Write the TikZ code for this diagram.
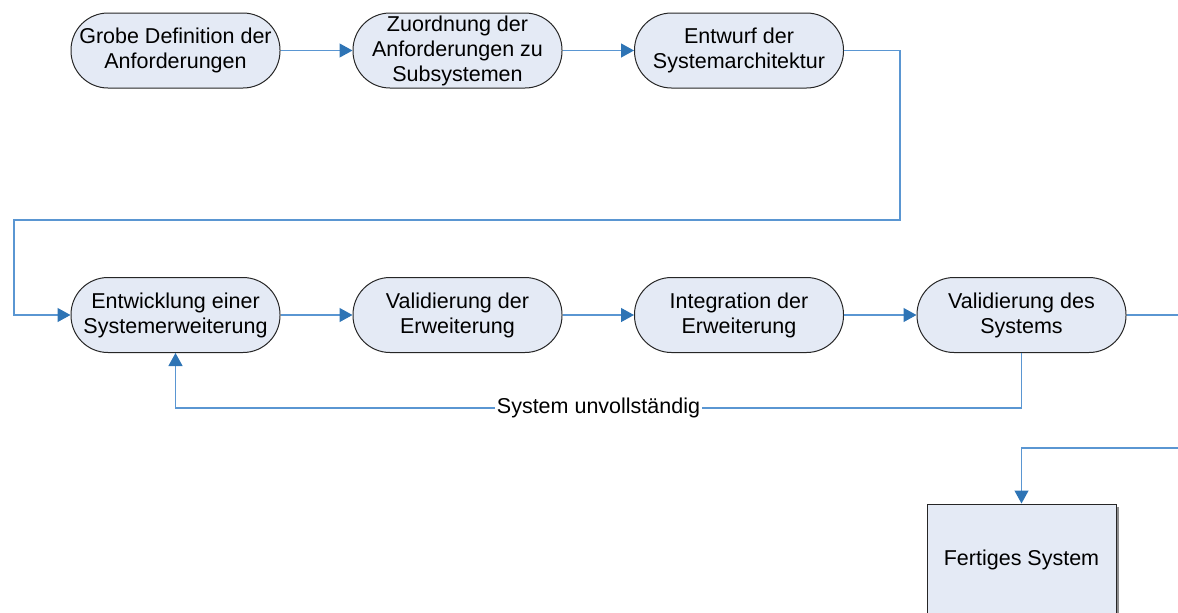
\documentclass[tikz,border=0pt]{standalone}
\usepackage{fontspec}
\setmainfont{Liberation Sans}
\usetikzlibrary{arrows.meta}
\definecolor{nodefill}{HTML}{E4EAF5}
\definecolor{linkblue}{HTML}{5A96D2}
\definecolor{tipblue}{HTML}{2E74B5}
\begin{document}
\begin{tikzpicture}[x=0.5pt,y=-0.5pt,
  txt/.style={font=\fontsize{10.75}{12.5}\selectfont},
  proc/.style={txt, draw=black!85, fill=nodefill, line width=0.5pt,
    rounded corners=18.5pt, minimum width=104.5pt, minimum height=37.5pt,
    align=center, inner sep=0pt},
  endbox/.style={txt, draw=black!85, fill=nodefill, line width=0.5pt,
    minimum width=94.5pt, minimum height=56pt, align=center, inner sep=0pt},
  conn/.style={draw=linkblue, line width=0.6pt},
  link/.style={conn, -{Triangle[length=6.5pt,width=7pt,color=tipblue]}},
  lbl/.style={txt, fill=white, inner sep=1pt}]
\useasboundingbox (0,0) rectangle (1178,612);
\clip (0,0) rectangle (1178,612);

% first row: requirements and architecture
\node[proc] (a1) at (175.5,50.5) {Grobe Definition der\\Anforderungen};
\node[proc] (a2) at (457.5,50.5) {Zuordnung der\\Anforderungen zu\\Subsystemen};
\node[proc] (a3) at (739,50.5) {Entwurf der\\Systemarchitektur};

% second row: incremental extension loop
\node[proc] (b1) at (175.5,315) {Entwicklung einer\\Systemerweiterung};
\node[proc] (b2) at (457.5,315) {Validierung der\\Erweiterung};
\node[proc] (b3) at (739,315) {Integration der\\Erweiterung};
\node[proc] (b4) at (1021.5,315) {Validierung des\\Systems};

% final result with a light drop shadow
\fill[black!45] (929.5,506.5) rectangle (1118.5,620);
\node[endbox] (fin) at (1021.5,560) {Fertiges System};

% routing points
\coordinate (r1) at (900,50.5);
\coordinate (r2) at (900,220);
\coordinate (r3) at (14,220);
\coordinate (fbR) at (1021.5,408);
\coordinate (fbL) at (175.5,408);
\coordinate (exitR) at (1180,315);
\coordinate (entryR) at (1180,448);

% connectors
\draw[link] (a1) -- (a2);
\draw[link] (a2) -- (a3);
\draw[link] (a3.east) -- (r1) -- (r2) -- (r3) |- (b1.west);
\draw[link] (b1) -- (b2);
\draw[link] (b2) -- (b3);
\draw[link] (b3) -- (b4);
\draw[link] (b4.south) -- (fbR) -- node[lbl] {System unvollständig} (fbL) -- (b1.south);
\draw[conn] (b4.east) -- (exitR);
\draw[link] (entryR) -| (fin.north);
\end{tikzpicture}
\end{document}
